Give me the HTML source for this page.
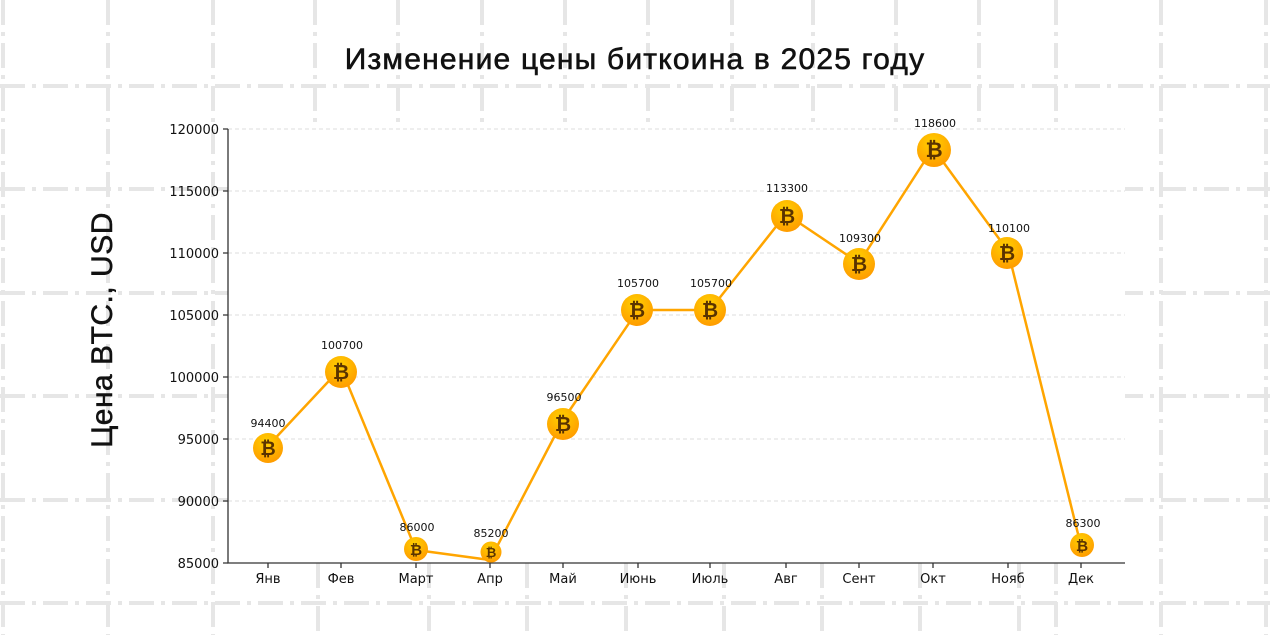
<!DOCTYPE html>
<html><head><meta charset="utf-8"><style>
html,body{margin:0;padding:0;background:#fff;}
svg{display:block;}
</style></head><body>
<svg width="1270" height="635" viewBox="0 0 1270 635" xmlns="http://www.w3.org/2000/svg">
<defs>
<radialGradient id="g" cx="0.45" cy="0.3" r="0.75">
<stop offset="0" stop-color="#ffd000"/><stop offset="1" stop-color="#ff9800"/>
</radialGradient>
</defs>
<g stroke="#e6e6e6" stroke-width="4" stroke-dasharray="25 7 4 7" fill="none">
<path d="M0 86H1270M0 189H1270M0 293H1270M0 396H1270M0 500H1270M0 603H1270"/>
<path d="M3 0V635M108 0V635M213 0V635M1056 0V635M1161 0V635M1266 0V635"/>
<path d="M315 0V129M398 0V129M482 0V129M565 0V129M648 0V129M732 0V129M813 0V129M896 0V129M979 0V129"/>
<path d="M318 563V635M429 563V635M527 563V635M626 563V635M724 563V635M822 563V635M920 563V635M1019 563V635"/>
</g>
<rect x="228" y="129" width="897" height="434" fill="#fff"/>
<g stroke="#dddddd" stroke-width="1" stroke-dasharray="4 3">
<path d="M228 129H1125M228 191H1125M228 253H1125M228 315H1125M228 377H1125M228 439H1125M228 501H1125"/>
</g>
<g stroke="#333" stroke-width="1.3" fill="none">
<path d="M228 129V563H1125"/>
<path d="M223 129H228M223 191H228M223 253H228M223 315H228M223 377H228M223 439H228M223 501H228M223 563H228"/>
<path d="M268 563v5M341 563v5M416 563v5M490 563v5M563 563v5M638 563v5M710 563v5M786 563v5M859 563v5M933 563v5M1008 563v5M1081 563v5"/>
</g>
<g font-family="DejaVu Sans, sans-serif" font-size="13" fill="#111" text-anchor="end">
<text x="219" y="134">120000</text><text x="219" y="196">115000</text><text x="219" y="258">110000</text>
<text x="219" y="320">105000</text><text x="219" y="382">100000</text><text x="219" y="444">95000</text>
<text x="219" y="506">90000</text><text x="219" y="568">85000</text>
</g>
<g font-family="DejaVu Sans, sans-serif" font-size="13" fill="#111" text-anchor="middle">
<text x="268" y="583">Янв</text><text x="341" y="583">Фев</text><text x="416" y="583">Март</text>
<text x="490" y="583">Апр</text><text x="563" y="583">Май</text><text x="638" y="583">Июнь</text>
<text x="710" y="583">Июль</text><text x="786" y="583">Авг</text><text x="859" y="583">Сент</text>
<text x="933" y="583">Окт</text><text x="1008" y="583">Нояб</text><text x="1081" y="583">Дек</text>
</g>
<polyline fill="none" stroke="#ffa500" stroke-width="2.5" stroke-linejoin="round"
points="268,446 341,368 416,550 490,560 563,420 638,310 710,310 786,214 859,263 933,148 1008,251 1081,546"/>
<g fill="url(#g)">
<circle cx="268" cy="448" r="15"/><circle cx="341" cy="372" r="16"/><circle cx="416" cy="549" r="12"/>
<circle cx="491" cy="552" r="10.5"/><circle cx="563" cy="424" r="16"/><circle cx="637" cy="310" r="16"/>
<circle cx="710" cy="310" r="16"/><circle cx="787" cy="216" r="16"/><circle cx="859" cy="264" r="16"/>
<circle cx="934" cy="150" r="17"/><circle cx="1007" cy="253" r="16"/><circle cx="1082" cy="545" r="12"/>
</g>
<g font-family="DejaVu Sans, sans-serif" font-weight="bold" fill="#5a3300" text-anchor="middle">
<text x="268" y="455" font-size="19">₿</text><text x="341" y="379" font-size="20">₿</text>
<text x="416" y="555" font-size="15">₿</text><text x="491" y="557" font-size="13">₿</text>
<text x="563" y="431" font-size="20">₿</text><text x="637" y="317" font-size="20">₿</text>
<text x="710" y="317" font-size="20">₿</text><text x="787" y="223" font-size="20">₿</text>
<text x="859" y="271" font-size="20">₿</text><text x="934" y="157" font-size="21">₿</text>
<text x="1007" y="260" font-size="20">₿</text><text x="1082" y="551" font-size="15">₿</text>
</g>
<g font-family="DejaVu Sans, sans-serif" font-size="11" fill="#111" text-anchor="middle">
<text x="268" y="427">94400</text><text x="342" y="349">100700</text><text x="417" y="531">86000</text>
<text x="491" y="537">85200</text><text x="564" y="401">96500</text><text x="638" y="287">105700</text>
<text x="711" y="287">105700</text><text x="787" y="192">113300</text><text x="860" y="242">109300</text>
<text x="935" y="127">118600</text><text x="1009" y="232">110100</text><text x="1083" y="527">86300</text>
</g>
<text x="635" y="69" font-family="Liberation Sans, sans-serif" font-size="30" fill="#111" stroke="#111" stroke-width="0.6" letter-spacing="1.2" text-anchor="middle">Изменение цены биткоина в 2025 году</text>
<text transform="translate(112,330) rotate(-90)" font-family="Liberation Sans, sans-serif" font-size="30" fill="#111" stroke="#111" stroke-width="0.5" letter-spacing="0.5" text-anchor="middle">Цена BTC., USD</text>
</svg>
</body></html>
